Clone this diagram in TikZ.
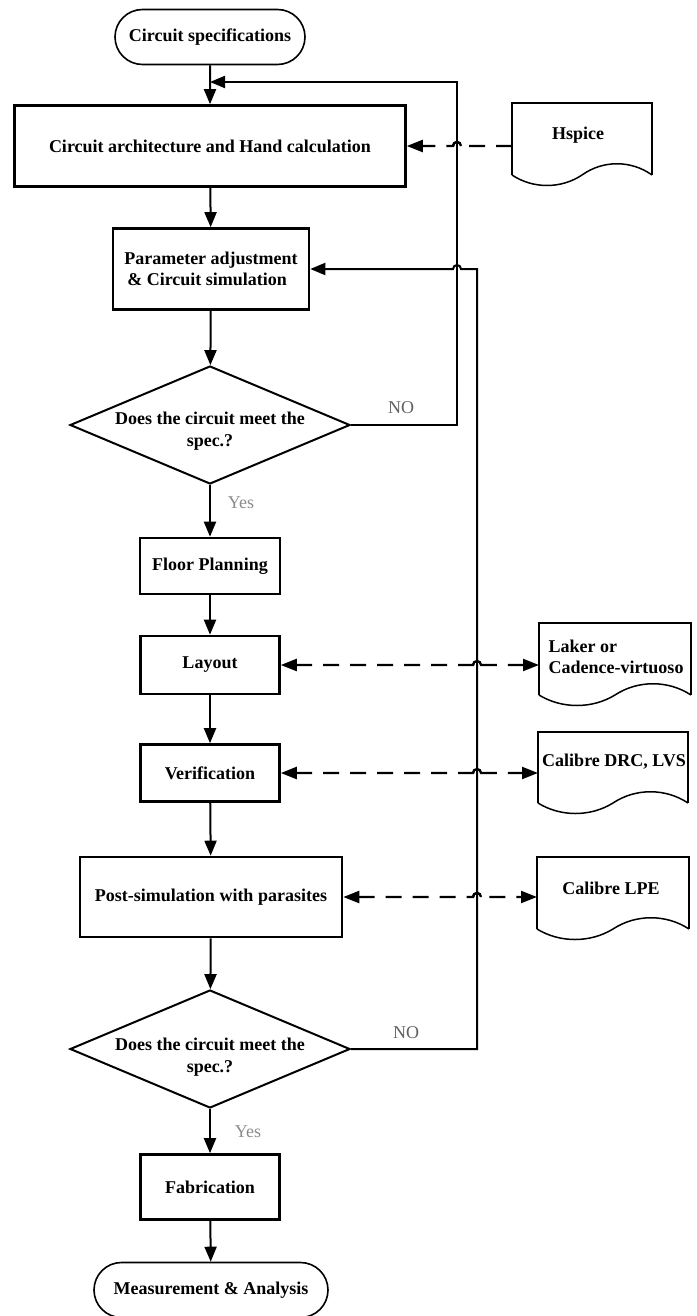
\documentclass[tikz,border=0pt]{standalone}
\usepackage{fontspec}
\setmainfont{Liberation Serif}
\usetikzlibrary{arrows.meta,shapes.geometric,shapes.misc}

% document symbol: straight top and sides, wavy bottom edge
\newcommand\docoutline[4]{% left, top, right, bottom corner
  \draw[docedge] (#1,#4) -- (#1,#2) -- (#3,#2) -- (#3,#4);
  \draw[docwave] (#1,#4)
    .. controls ({#1+0.15*(#3-#1)},{#4+14}) and ({#1+0.35*(#3-#1)},{#4+14}) .. ({0.5*(#1+#3)},#4)
    .. controls ({#1+0.65*(#3-#1)},{#4-15}) and ({#1+0.85*(#3-#1)},{#4-15}) .. (#3,#4);
}

\begin{document}
\begin{tikzpicture}[x=1pt,y=-1pt,
  txt/.style={font=\bfseries\fontsize{18}{21.5}\selectfont, inner sep=0pt},
  terminal/.style={txt, draw, line width=1.6pt, rounded rectangle, minimum width=#1, minimum height=55pt},
  procbox/.style={txt, draw, line width=2.6pt, rectangle, align=center},
  decision/.style={draw, line width=2pt, diamond, inner sep=0pt, minimum width=280pt, minimum height=118pt},
  doctext/.style={txt, align=left},
  docedge/.style={line width=2.3pt},
  docwave/.style={line width=1.5pt},
  flow/.style={line width=2pt, -{Triangle[length=15pt,width=12pt]}},
  loopline/.style={line width=2pt, -{Triangle[length=15pt,width=12pt]}},
  toolin/.style={line width=2.3pt, dash pattern=on 16pt off 11pt, -{Triangle[length=16pt,width=12pt]}},
  toolio/.style={line width=2.3pt, dash pattern=on 16pt off 11pt, {Triangle[length=16pt,width=12pt]}-{Triangle[length=16pt,width=12pt]}},
  hopline/.style={line width=2.3pt},
  answer/.style={font=\fontsize{18}{21}\selectfont, inner sep=0pt},
  hop/.style={radius=4pt}
]
\useasboundingbox (0,0) rectangle (696,1316);
\fill[white] (0,0) rectangle (696,1316);

% main flow
\node[terminal=190pt] (spec) at (210,37) {Circuit specifications};
\node[procbox, minimum width=391pt, minimum height=81pt] (arch) at (210,146)
  {Circuit architecture and Hand calculation};
\node[procbox, minimum width=196pt, minimum height=81pt, align=left] (param) at (211,269)
  {Parameter adjustment\\\,\& Circuit simulation};
\node[decision] (d1) at (210,425) {};
\node[txt, align=center] (d1t) at (210,431) {Does the circuit meet the\\spec.?};
\node[procbox, minimum width=140pt, minimum height=56pt] (floor) at (210,566) {Floor Planning};
\node[procbox, minimum width=139pt, minimum height=58pt] (layout) at (210,665) {Layout};
\node[procbox, minimum width=139pt, minimum height=57pt] (verif) at (210,773) {Verification};
\node[procbox, minimum width=262pt, minimum height=80pt] (post) at (211,897)
  {Post-simulation with parasites};
\node[decision] (d2) at (210,1049) {};
\node[txt, align=center] (d2t) at (210,1057) {Does the circuit meet the\\spec.?};
\node[procbox, minimum width=139pt, minimum height=65pt] (fab) at (210,1187) {Fabrication};
\node[terminal=234pt] (meas) at (211,1290) {Measurement \& Analysis};

% tool documents
\docoutline{512}{103}{652}{175}
\node[doctext] (hspice) at (578,135) {Hspice};
\docoutline{539}{623}{691}{695}
\node[doctext] (laker) at (616,657) {Laker or\\Cadence-virtuoso};
\docoutline{538}{732}{688}{803}
\node[doctext] (drc) at (614,762) {Calibre DRC, LVS};
\docoutline{537}{857}{689}{929}
\node[doctext] (lpe) at (611,888) {Calibre LPE};

\coordinate (hsIn) at (512,146);
\coordinate (lkIn) at (539,665);
\coordinate (drcIn) at (538,773);
\coordinate (lpeIn) at (537,897);

% junctions of the feedback loops
\coordinate (j1) at (210,82);
\coordinate (loopA) at (457,82);
\coordinate (loopB) at (477,269);

% forward flow
\draw[flow] (spec) -- (arch);
\draw[flow] (arch) -- (param);
\draw[flow] (param) -- (d1);
\draw[flow] (d1) -- (floor);
\draw[flow] (floor) -- (layout);
\draw[flow] (layout) -- (verif);
\draw[flow] (verif) -- (post);
\draw[flow] (post) -- (d2);
\draw[flow] (d2) -- (fab);
\draw[flow] (fab) -- (meas);

% feedback loops
\draw[loopline] (d1.east) -| (loopA) -- (j1);
\draw[loopline] (d2.east) -| (loopB) -- (461,269) arc[start angle=0,end angle=180,hop] -- (param.east);

% tool links, each hopping over the feedback line it crosses
\draw[toolin] (hsIn) -- (461,146) arc[start angle=0,end angle=180,hop] -- (arch.east);
\draw[hopline] (461,146) arc[start angle=0,end angle=180,hop];
\draw[toolio] (layout.east) -- (473,665) arc[start angle=180,end angle=0,hop] -- (lkIn);
\draw[hopline] (473,665) arc[start angle=180,end angle=0,hop];
\draw[toolio] (verif.east) -- (473,773) arc[start angle=180,end angle=0,hop] -- (drcIn);
\draw[hopline] (473,773) arc[start angle=180,end angle=0,hop];
\draw[toolio] (post.east) -- (473,897) arc[start angle=180,end angle=0,hop] -- (lpeIn);
\draw[hopline] (473,897) arc[start angle=180,end angle=0,hop];

% branch labels
\node[answer, text=black!62] (no1) at (401,408) {NO};
\node[answer, text=black!45] (yes1) at (241,503) {Yes};
\node[answer, text=black!62] (no2) at (406,1033) {NO};
\node[answer, text=black!45] (yes2) at (248,1132) {Yes};
\end{tikzpicture}
\end{document}
